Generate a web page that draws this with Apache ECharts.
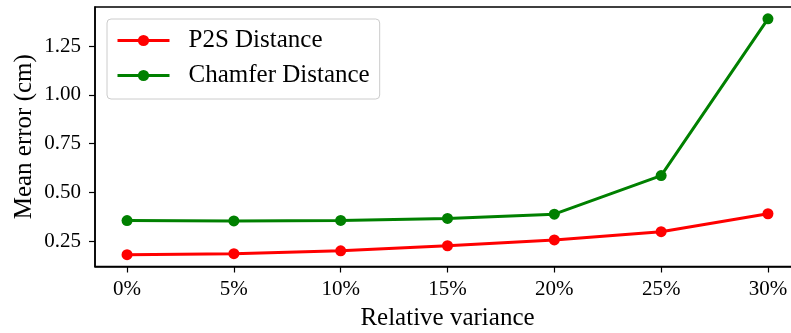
<!DOCTYPE html>
<html>
<head>
<meta charset="utf-8">
<script src="https://cdn.jsdelivr.net/npm/echarts@6/dist/echarts.min.js"></script>
<style>html,body{margin:0;padding:0;background:#fff;}#c{width:791px;height:333px;}</style>
</head>
<body>
<div id="c"></div>
<script>
const categories = ['0%', '5%', '10%', '15%', '20%', '25%', '30%'];
const p2s = [0.18, 0.185, 0.20, 0.226, 0.256, 0.298, 0.39];
const chamfer = [0.355, 0.353, 0.356, 0.366, 0.388, 0.586, 1.39];
const yTicks = [0.25, 0.50, 0.75, 1.00, 1.25];
const seriesNames = ['P2S Distance', 'Chamfer Distance'];

const font = 'Liberation Serif';
const xIdx = categories.map((c, i) => i);
const chart = echarts.init(document.getElementById('c'), null, {renderer: 'canvas'});
chart.setOption({
  animation: false,
  backgroundColor: '#fff',
  grid: {left: 95, top: 7, right: -9, bottom: 66.5, outerBoundsMode: 'none', containLabel: false,
    show: true, borderColor: '#000', borderWidth: 1.5},
  legend: {
    left: 107, top: 19, orient: 'vertical',
    itemWidth: 52, itemHeight: 14, itemGap: 10,
    padding: [9, 10, 11, 9],
    borderColor: '#cccccc', borderWidth: 1, borderRadius: 4,
    backgroundColor: 'rgba(255,255,255,0.8)',
    lineStyle: {width: 3},
    textStyle: {fontFamily: font, fontSize: 25, color: '#000', lineHeight: 24, padding: [0, 0, 0, 14]},
    data: seriesNames
  },
  xAxis: {
    type: 'value', min: -0.3, max: 6.3,
    name: 'Relative variance', nameLocation: 'middle', nameGap: 39,
    nameTextStyle: {fontFamily: font, fontSize: 25, color: '#000'},
    axisLine: {show: true, onZero: false, lineStyle: {color: '#000', width: 1.5}},
    axisTick: {show: true, length: 6, inside: false, customValues: xIdx, lineStyle: {color: '#000', width: 1.2}},
    axisLabel: {fontFamily: font, fontSize: 21, color: '#000', margin: 12, customValues: xIdx,
      hideOverlap: false, formatter: v => categories[Math.round(v)]},
    splitLine: {show: false}
  },
  yAxis: {
    type: 'value', min: 0.1195, max: 1.4505,
    name: 'Mean error (cm)', nameLocation: 'middle', nameGap: 58, nameRotate: 90, nameMoveOverlap: false,
    nameTextStyle: {fontFamily: font, fontSize: 25, color: '#000'},
    axisLine: {show: true, onZero: false, lineStyle: {color: '#000', width: 1.5}},
    axisTick: {show: true, length: 6, customValues: yTicks, lineStyle: {color: '#000', width: 1.2}},
    axisLabel: {fontFamily: font, fontSize: 21, color: '#000', margin: 14, customValues: yTicks,
      formatter: v => v.toFixed(2)},
    splitLine: {show: false}
  },
  series: [
    {name: seriesNames[0], type: 'line', data: p2s.map((v, i) => [i, v]),
      symbol: 'circle', symbolSize: 11, color: '#ff0000',
      lineStyle: {width: 3, color: '#ff0000'}, itemStyle: {color: '#ff0000'}},
    {name: seriesNames[1], type: 'line', data: chamfer.map((v, i) => [i, v]),
      symbol: 'circle', symbolSize: 11, color: '#008000',
      lineStyle: {width: 3, color: '#008000'}, itemStyle: {color: '#008000'}}
  ]
});
</script>
</body>
</html>
